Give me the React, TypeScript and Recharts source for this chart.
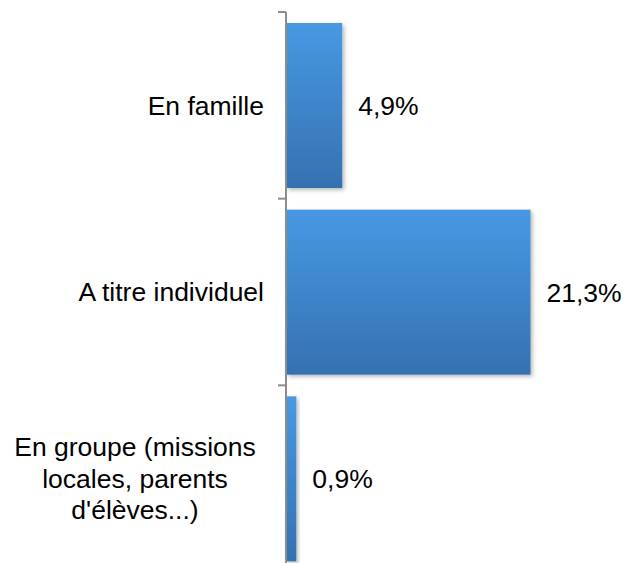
import React from 'react';
import { BarChart, Bar, XAxis, YAxis, LabelList } from 'recharts';

// categories (wrapped as in the source) and shares in %
const categories = ['En famille', 'A titre individuel', "En groupe (missions locales, parents d'élèves...)"];
const categoryLines = [['En famille'], ['A titre individuel'], ['En groupe (missions', 'locales, parents', "d'élèves...)"]];
const shares = [4.9, 21.3, 0.9];

const data = categories.map((name, i) => ({ name, value: shares[i], lines: categoryLines[i] }));

const FONT = "Arial, 'Liberation Sans', sans-serif";
const FONT_SIZE = 26.5;
const AXIS_COLOR = '#8c8c8c';
const TICK_MARGIN = 14;
const TICK_SIZE = 8;
const LINE_HEIGHT = 31.5;
const WRAP_WIDTH = 258;

const fmt = (v: any) => `${Number(v).toFixed(1).replace('.', ',')}%`;

function CategoryTick(props: any) {
  const { x, y, payload, index } = props;
  const lines: string[] = data[index]?.lines ?? [String(payload.value)];
  const half = payload.offset ?? 93;
  const axisX = x + TICK_MARGIN + TICK_SIZE;
  const multi = lines.length > 1;
  const tx = multi ? x - WRAP_WIDTH / 2 : x;
  const startY = y - ((lines.length - 1) / 2) * LINE_HEIGHT;
  return (
    <g>
      <line x1={axisX - TICK_SIZE} x2={axisX} y1={y - half} y2={y - half} stroke={AXIS_COLOR} strokeWidth={2} />
      <text x={tx} y={startY} textAnchor={multi ? 'middle' : 'end'} fontFamily={FONT} fontSize={FONT_SIZE} fill="#000">
        {lines.map((l, i) => (
          <tspan key={i} x={tx} y={startY + i * LINE_HEIGHT} dy="0.35em">
            {l}
          </tspan>
        ))}
      </text>
    </g>
  );
}

function ShadowBar(props: any) {
  const { x, y, width, height } = props;
  if (!width || width <= 0) return null;
  return <rect x={x} y={y} width={width} height={height} fill="url(#barGrad)" filter="url(#barShadow)" />;
}

export default function App() {
  return (
    <div style={{ position: 'absolute', top: 0, left: 0, width: 635, height: 563, overflow: 'hidden', background: '#fff' }}>
      <BarChart
        width={635}
        height={575}
        data={data}
        layout="vertical"
        margin={{ top: 12, right: 62, bottom: 3, left: 0 }}
        barCategoryGap={11}
      >
        <defs>
          <linearGradient id="barGrad" x1="0" y1="0" x2="0" y2="1">
            <stop offset="0%" stopColor="#4799e2" />
            <stop offset="100%" stopColor="#3571b1" />
          </linearGradient>
          <filter id="barShadow" x="-20%" y="-10%" width="150%" height="130%">
            <feDropShadow dx="2" dy="2" stdDeviation="2" floodColor="#000" floodOpacity="0.28" />
          </filter>
        </defs>
        <XAxis type="number" domain={[0, 25]} hide />
        <YAxis
          type="category"
          dataKey="name"
          width={286}
          axisLine={{ stroke: AXIS_COLOR, strokeWidth: 2 }}
          tickLine={false}
          tickSize={TICK_SIZE}
          tickMargin={TICK_MARGIN}
          tick={<CategoryTick />}
          interval={0}
        />
        <Bar dataKey="value" isAnimationActive={false} shape={<ShadowBar />}>
          <LabelList
            dataKey="value"
            position="right"
            offset={16}
            formatter={fmt}
            style={{ fontFamily: FONT, fontSize: FONT_SIZE, fill: '#000' }}
          />
        </Bar>
      </BarChart>
    </div>
  );
}
